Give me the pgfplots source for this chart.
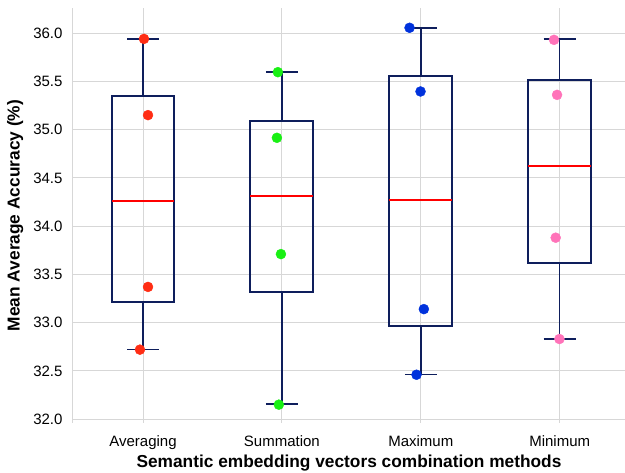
\documentclass[border=0pt]{standalone}
\usepackage{fontspec}
\setmainfont{Liberation Sans}
\usepackage{pgfplots}
\pgfplotsset{compat=1.18}
\usepgfplotslibrary{statistics}
\definecolor{navy}{RGB}{14,30,92}
\definecolor{gridc}{RGB}{215,215,215}
\definecolor{dred}{RGB}{255,45,20}
\definecolor{dgreen}{RGB}{25,240,20}
\definecolor{dblue}{RGB}{0,50,220}
\definecolor{dpink}{RGB}{255,115,185}
\begin{document}
\begin{tikzpicture}
\useasboundingbox (-73pt,-50pt) rectangle (552pt,423pt);
\begin{axis}[
  at={(0pt,0pt)}, anchor=south west,
  scale only axis,
  width=552pt, height=415pt,
  xmin=-0.504, xmax=3.47,
  ymin=31.96, ymax=36.26,
  axis y line*=left,
  axis x line*=bottom,
  x axis line style={draw=none},
  y axis line style={gridc, line width=1pt},
  xtick={0,1,2,3},
  xticklabels={Averaging,Summation,Maximum,Minimum},
  ytick={32,32.5,...,36},
  /pgf/number format/fixed,
  /pgf/number format/fixed zerofill,
  /pgf/number format/precision=1,
  /pgf/number format/assume math mode=true,
  tick style={draw=none},
  grid=major,
  major grid style={gridc, line width=1pt},
  tick label style={font=\fontsize{15}{18}\selectfont, black},
  yticklabel style={xshift=-7pt},
  xticklabel style={yshift=-9pt},
  xlabel={\bfseries Semantic embedding vectors combination methods},
  ylabel={\bfseries Mean Average Accuracy (\%)},
  label style={font=\fontsize{17.3}{20}\selectfont},
  xlabel style={yshift=1.5pt},
  ylabel style={yshift=3pt},
  boxplot/draw direction=y,
  boxplot/box extend=0.453,
  boxplot/whisker extend=0.23,
  boxplot/every box/.style={draw=navy, line width=2pt},
  boxplot/every whisker/.style={draw=navy, line width=1.5pt},
  boxplot/every median/.style={draw=red, line width=2pt},
  clip=false,
]
\addplot[navy, solid,
  boxplot prepared={draw position=0, lower whisker=32.72, lower quartile=33.21, median=34.26, upper quartile=35.35, upper whisker=35.94}]
  coordinates {};
\addplot[navy, solid,
  boxplot prepared={draw position=1, lower whisker=32.155, lower quartile=33.32, median=34.31, upper quartile=35.085, upper whisker=35.595}]
  coordinates {};
\addplot[navy, solid,
  boxplot prepared={draw position=2, lower whisker=32.46, lower quartile=32.97, median=34.27, upper quartile=35.56, upper whisker=36.055}]
  coordinates {};
\addplot[navy, solid,
  boxplot prepared={draw position=3, lower whisker=32.83, lower quartile=33.62, median=34.625, upper quartile=35.51, upper whisker=35.94}]
  coordinates {};
\addplot[only marks, mark=*, mark size=5pt, dred, mark options={draw=none, fill=dred}]
  coordinates {(0.007,35.94) (0.036,35.15) (0.036,33.37) (-0.022,32.72)};
\addplot[only marks, mark=*, mark size=5pt, dgreen, mark options={draw=none, fill=dgreen}]
  coordinates {(0.971,35.595) (0.964,34.915) (0.993,33.71) (0.978,32.15)};
\addplot[only marks, mark=*, mark size=5pt, dblue, mark options={draw=none, fill=dblue}]
  coordinates {(1.919,36.055) (1.998,35.395) (2.022,33.14) (1.969,32.46)};
\addplot[only marks, mark=*, mark size=5pt, dpink, mark options={draw=none, fill=dpink}]
  coordinates {(2.959,35.93) (2.981,35.36) (2.971,33.88) (2.998,32.83)};
\end{axis}
\end{tikzpicture}
\end{document}
